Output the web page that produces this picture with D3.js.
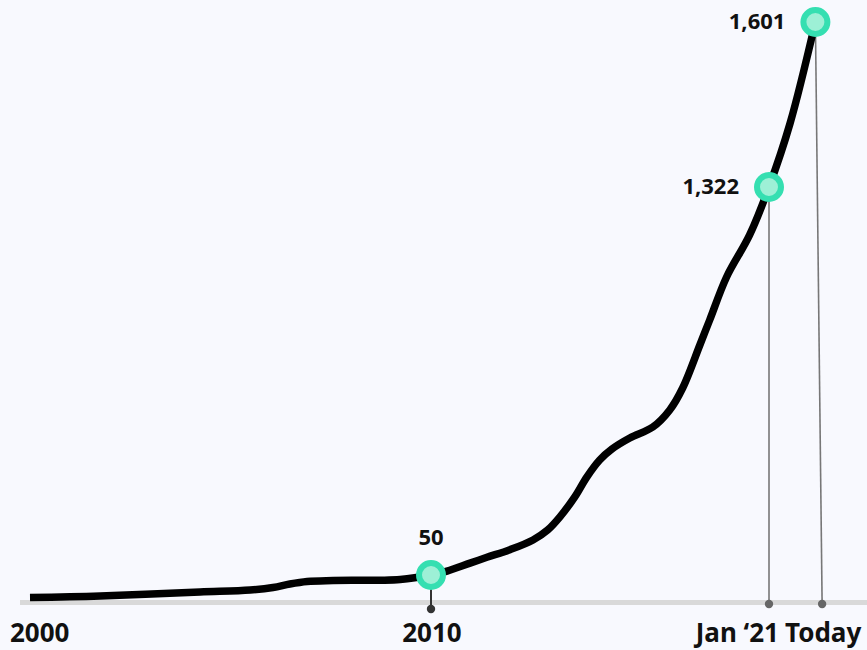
<!DOCTYPE html>
<html>
<head>
<meta charset="utf-8">
<script src="https://cdn.jsdelivr.net/npm/d3@7"></script>
<style>
  html, body { margin: 0; padding: 0; background: #f8f9fe; }
  svg { display: block; }
  text { font-family: "Noto Sans", "Open Sans", sans-serif; font-weight: 700; fill: #111; }
</style>
</head>
<body>
<svg id="chart" width="867" height="650"></svg>
<script>
// ---- data ----
const curveYears = [2000, 2001.75, 2004.24, 2005.49, 2006.06, 2006.48, 2006.91, 2007.56, 2009.23, 2010,
  2010.52, 2011.27, 2011.82, 2012.57, 2013.32, 2013.80, 2014.19, 2014.68, 2015.07, 2015.49,
  2015.89, 2016.47, 2017.22, 2017.77, 2018.19, 2018.75, 2019.07, 2019.62, 2020.37, 2021,
  2021.66, 2022.45];
const curveValues = [5, 8, 16, 20, 25, 32, 37, 39, 41, 50,
  63, 89, 108, 133, 165, 198, 240, 306, 371, 427,
  463, 499, 535, 591, 663, 804, 886, 1027, 1165, 1322,
  1430, 1601];

const markerYears = [2010, 2021, 2022.45];
const markerValues = [50, 1322, 1601];
const markerLabels = ["50", "1,322", "1,601"];

const tickYears = [2000, 2010, 2021, 2022.66];
const tickLabels = ["2000", "2010", "Jan \u201821", "Today"];

// ---- scales ----
const x = d3.scaleLinear().domain([2000, 2010, 2021, 2022.5]).range([30, 431, 769, 817]);
const y = d3.scaleLinear().domain([0, 50, 1322, 1601]).range([600, 575, 187, 22]);

const svg = d3.select("#chart");
const baseY = 602.5;

// baseline
svg.append("line")
  .attr("x1", 20).attr("x2", 867)
  .attr("y1", baseY).attr("y2", baseY)
  .attr("stroke", "#d9d9d9").attr("stroke-width", 5);

// drop lines from markers to their ticks (tick index = marker index + 1)
markerYears.forEach((yr, i) => {
  const tx = x(tickYears[i + 1]);
  const first = i === 0;
  const by = first ? 609 : 604;
  svg.append("line")
    .attr("x1", x(yr)).attr("y1", y(markerValues[i]))
    .attr("x2", tx).attr("y2", by)
    .attr("stroke", first ? "#333" : "#777")
    .attr("stroke-width", first ? 2 : 1.6);
  svg.append("circle")
    .attr("cx", tx).attr("cy", by).attr("r", 4.2)
    .attr("fill", first ? "#333" : "#666");
});

// curve
const pts = curveYears.map((d, i) => [d, curveValues[i]]);
const line = d3.line()
  .x(d => x(d[0]))
  .y(d => y(d[1]))
  .curve(d3.curveCatmullRom.alpha(0.5));
svg.append("path")
  .attr("d", line(pts))
  .attr("fill", "none")
  .attr("stroke", "#000")
  .attr("stroke-width", 7.5)
  .attr("stroke-linecap", "butt");

// markers
markerYears.forEach((yr, i) => {
  svg.append("circle")
    .attr("cx", x(yr)).attr("cy", y(markerValues[i]))
    .attr("r", 12)
    .attr("fill", "#9df0d6")
    .attr("stroke", "#35dfb1")
    .attr("stroke-width", 6);
});

// marker labels
markerYears.forEach((yr, i) => {
  const cx = x(yr), cy = y(markerValues[i]);
  const t = svg.append("text").text(markerLabels[i]).attr("font-size", 22);
  if (i === 0) {
    t.attr("x", cx).attr("y", cy - 30).attr("text-anchor", "middle");
  } else {
    t.attr("x", cx - 30).attr("y", cy + 7).attr("text-anchor", "end");
  }
});

// tick labels
const anchors = ["start", "middle", "end", "middle"];
const offsets = [-20, 1, 10, 1];
tickYears.forEach((yr, i) => {
  svg.append("text")
    .text(tickLabels[i])
    .attr("x", x(yr) + offsets[i])
    .attr("y", 642)
    .attr("text-anchor", anchors[i])
    .attr("font-size", 26);
});
</script>
</body>
</html>
